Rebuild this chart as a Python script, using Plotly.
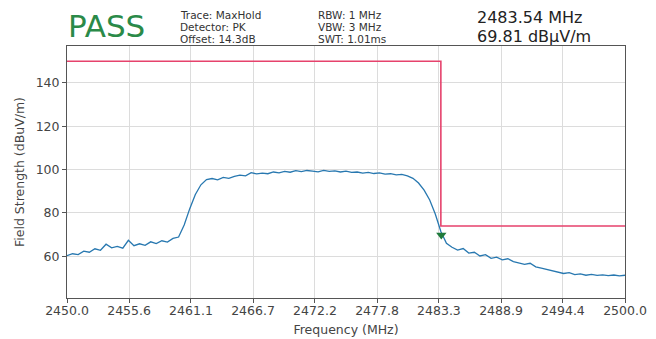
import plotly.graph_objects as go

# ---------------- data ----------------
trace_freq = [2450.0, 2450.5, 2451.0, 2451.5, 2452.0, 2452.5, 2453.0, 2453.5, 2454.0, 2454.5,
              2455.0, 2455.5, 2456.0, 2456.5, 2457.0, 2457.5, 2458.0, 2458.5, 2459.0, 2459.5,
              2460.0, 2460.5, 2461.0, 2461.5, 2462.0, 2462.5, 2463.0, 2463.5, 2464.0, 2464.5,
              2465.0, 2465.5, 2466.0, 2466.5, 2467.0, 2467.5, 2468.0, 2468.5, 2469.0, 2469.5,
              2470.0, 2470.5, 2471.0, 2471.5, 2472.0, 2472.5, 2473.0, 2473.5, 2474.0, 2474.5,
              2475.0, 2475.5, 2476.0, 2476.5, 2477.0, 2477.5, 2478.0, 2478.5, 2479.0, 2479.5,
              2480.0, 2480.5, 2481.0, 2481.5, 2482.0, 2482.5, 2483.0, 2483.5, 2484.0, 2484.5,
              2485.0, 2485.5, 2486.0, 2486.5, 2487.0, 2487.5, 2488.0, 2488.5, 2489.0, 2489.5,
              2490.0, 2490.5, 2491.0, 2491.5, 2492.0, 2492.5, 2493.0, 2493.5, 2494.0, 2494.5,
              2495.0, 2495.5, 2496.0, 2496.5, 2497.0, 2497.5, 2498.0, 2498.5, 2499.0, 2499.5,
              2500.0]
trace_level = [60.3, 61.2, 60.8, 62.4, 61.9, 63.5, 62.8, 65.6, 63.9, 64.6,
               63.8, 67.4, 64.9, 65.8, 65.1, 66.7, 65.9, 67.2, 66.6, 68.3,
               68.9, 74.5, 82.0, 88.5, 93.0, 95.4, 95.9, 95.3, 96.4, 96.0,
               96.9, 97.5, 97.1, 98.6, 98.0, 98.4, 98.1, 98.9, 98.5, 99.2,
               98.8, 99.5, 99.1, 99.6, 99.3, 99.0, 99.6, 99.2, 99.4, 98.9,
               99.3, 98.7, 98.9, 98.4, 98.7, 98.2, 98.5, 97.9, 98.1, 97.6,
               97.8, 97.1, 96.0, 93.8, 90.5, 86.0, 79.5, 71.5, 66.0, 64.2,
               62.9, 63.6, 61.5, 61.9, 60.2, 60.8, 59.1, 59.6, 58.4, 58.9,
               57.6, 57.1, 56.3, 56.8, 55.2, 54.6, 53.9, 53.2, 52.8, 52.1,
               52.5, 51.6, 51.9, 51.3, 51.7, 51.2, 51.5, 51.1, 51.4, 51.0,
               51.3]

limit_freq = [2450.0, 2483.5, 2483.5, 2500.0]
limit_level = [150, 150, 74, 74]

marker_freq = [2483.54]
marker_level = [69.81]

x_tick_vals = [2450.0, 2455.56, 2461.11, 2466.67, 2472.22, 2477.78, 2483.33, 2488.89, 2494.44, 2500.0]
x_tick_text = ["2450.0", "2455.6", "2461.1", "2466.7", "2472.2", "2477.8", "2483.3", "2488.9", "2494.4", "2500.0"]
y_tick_vals = [60, 80, 100, 120, 140]

verdict = "PASS"
info_left = ["Trace: MaxHold", "Detector: PK", "Offset: 14.3dB"]
info_mid = ["RBW: 1 MHz", "VBW: 3 MHz", "SWT: 1.01ms"]
peak_text = ["2483.54 MHz", "69.81 dBμV/m"]

# ---------------- figure ----------------
# the page body adds an 8px margin, so the figure is laid out in screen
# coordinates shifted by 8px
OFF = 8
W, H = 656 - OFF, 339 - OFF
L, R, T, B = 67 - OFF, 31, 46 - OFF, 41
PH = H - T - B
PW = W - L - R

def py(y_screen):
    return (H - B - (y_screen - OFF)) / PH

def px(x_screen):
    return ((x_screen - OFF) - L) / PW

FONT = "DejaVu Sans"

fig = go.Figure()
fig.add_trace(go.Scatter(x=limit_freq, y=limit_level, mode="lines",
                         line=dict(color="#e6426c", width=1.6), hoverinfo="skip"))
fig.add_trace(go.Scatter(x=trace_freq, y=trace_level, mode="lines",
                         line=dict(color="#2878b0", width=1.3), hoverinfo="skip"))
fig.add_trace(go.Scatter(x=marker_freq, y=marker_level, mode="markers",
                         marker=dict(symbol="triangle-down", size=9, color="#1f7a3c"),
                         hoverinfo="skip"))

annotations = []
annotations.append(dict(text=verdict, x=px(67), y=py(26), xref="paper", yref="paper",
                        xanchor="left", yanchor="middle", showarrow=False, borderpad=0,
                        font=dict(family=FONT, size=31, color="#2a8a48")))
for i, (a, b) in enumerate(zip(info_left, info_mid)):
    yy = py(14.6 + 12.3 * i)
    annotations.append(dict(text=a, x=px(179), y=yy, xref="paper", yref="paper",
                            xanchor="left", yanchor="middle", showarrow=False, borderpad=0,
                            font=dict(family=FONT, size=10.5, color="#333333")))
    annotations.append(dict(text=b, x=px(317), y=yy, xref="paper", yref="paper",
                            xanchor="left", yanchor="middle", showarrow=False, borderpad=0,
                            font=dict(family=FONT, size=10.5, color="#333333")))
for i, t in enumerate(peak_text):
    annotations.append(dict(text=t, x=px(476), y=py(18 + 18.8 * i), xref="paper", yref="paper",
                            xanchor="left", yanchor="middle", showarrow=False, borderpad=0,
                            font=dict(family=FONT, size=16, color="#222222")))

axis_common = dict(
    showgrid=True, gridcolor="#dcdcdc", gridwidth=0.8,
    showline=True, linecolor="#555555", linewidth=1, mirror=True,
    ticks="outside", ticklen=4, tickcolor="#555555", tickwidth=1,
    zeroline=False, automargin=False,
    tickfont=dict(family=FONT, size=12.5, color="#444444"),
)

fig.update_layout(
    width=W, height=H,
    margin=dict(l=L, r=R, t=T, b=B),
    paper_bgcolor="white", plot_bgcolor="white",
    showlegend=False,
    annotations=annotations,
    xaxis=dict(range=[2450, 2500], tickvals=x_tick_vals, ticktext=x_tick_text,
               ticklabelstandoff=-3,
               title=dict(text="Frequency (MHz)", font=dict(family=FONT, size=12.5, color="#444444"),
                          standoff=8),
               **axis_common),
    yaxis=dict(range=[40.8, 157], tickvals=y_tick_vals,
               title=dict(text="Field Strength (dBuV/m)", font=dict(family=FONT, size=12.5, color="#444444"),
                          standoff=8),
               **axis_common),
)

fig.write_html("out.html")
